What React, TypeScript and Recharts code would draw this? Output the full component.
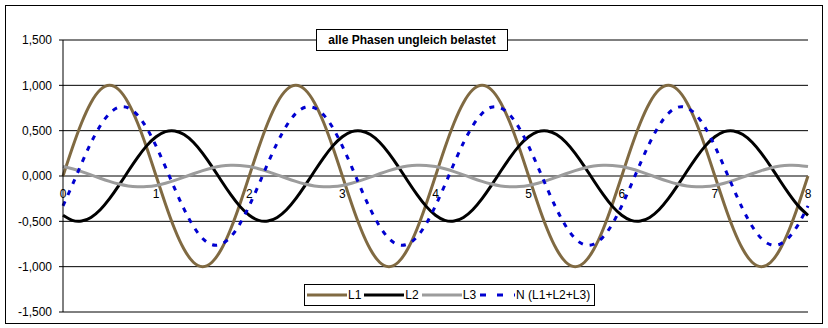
import { LineChart, Line, XAxis, YAxis, CartesianGrid, ReferenceDot } from "recharts";

// x positions (step 0.1 from 0 to 8)
const xValues = [
  0, 0.1, 0.2, 0.3, 0.4, 0.5, 0.6, 0.7, 0.8, 0.9,
  1, 1.1, 1.2, 1.3, 1.4, 1.5, 1.6, 1.7, 1.8, 1.9,
  2, 2.1, 2.2, 2.3, 2.4, 2.5, 2.6, 2.7, 2.8, 2.9,
  3, 3.1, 3.2, 3.3, 3.4, 3.5, 3.6, 3.7, 3.8, 3.9,
  4, 4.1, 4.2, 4.3, 4.4, 4.5, 4.6, 4.7, 4.8, 4.9,
  5, 5.1, 5.2, 5.3, 5.4, 5.5, 5.6, 5.7, 5.8, 5.9,
  6, 6.1, 6.2, 6.3, 6.4, 6.5, 6.6, 6.7, 6.8, 6.9,
  7, 7.1, 7.2, 7.3, 7.4, 7.5, 7.6, 7.7, 7.8, 7.9,
  8,
];

const l1Values = [
  0, 0.309, 0.588, 0.809, 0.951, 1, 0.951, 0.809, 0.588, 0.309,
  0, -0.309, -0.588, -0.809, -0.951, -1, -0.951, -0.809, -0.588, -0.309,
  0, 0.309, 0.588, 0.809, 0.951, 1, 0.951, 0.809, 0.588, 0.309,
  0, -0.309, -0.588, -0.809, -0.951, -1, -0.951, -0.809, -0.588, -0.309,
  0, 0.309, 0.588, 0.809, 0.951, 1, 0.951, 0.809, 0.588, 0.309,
  0, -0.309, -0.588, -0.809, -0.951, -1, -0.951, -0.809, -0.588, -0.309,
  0, 0.309, 0.588, 0.809, 0.951, 1, 0.951, 0.809, 0.588, 0.309,
  0, -0.309, -0.588, -0.809, -0.951, -1, -0.951, -0.809, -0.588, -0.309,
  0,
];

const l2Values = [
  -0.433, -0.489, -0.497, -0.457, -0.372, -0.25, -0.104, 0.052, 0.203, 0.335,
  0.433, 0.489, 0.497, 0.457, 0.372, 0.25, 0.104, -0.052, -0.203, -0.335,
  -0.433, -0.489, -0.497, -0.457, -0.372, -0.25, -0.104, 0.052, 0.203, 0.335,
  0.433, 0.489, 0.497, 0.457, 0.372, 0.25, 0.104, -0.052, -0.203, -0.335,
  -0.433, -0.489, -0.497, -0.457, -0.372, -0.25, -0.104, 0.052, 0.203, 0.335,
  0.433, 0.489, 0.497, 0.457, 0.372, 0.25, 0.104, -0.052, -0.203, -0.335,
  -0.433, -0.489, -0.497, -0.457, -0.372, -0.25, -0.104, 0.052, 0.203, 0.335,
  0.433, 0.489, 0.497, 0.457, 0.372, 0.25, 0.104, -0.052, -0.203, -0.335,
  -0.433,
];

const l3Values = [
  0.104, 0.08, 0.049, 0.013, -0.025, -0.06, -0.089, -0.11, -0.119, -0.117,
  -0.104, -0.08, -0.049, -0.013, 0.025, 0.06, 0.089, 0.11, 0.119, 0.117,
  0.104, 0.08, 0.049, 0.013, -0.025, -0.06, -0.089, -0.11, -0.119, -0.117,
  -0.104, -0.08, -0.049, -0.013, 0.025, 0.06, 0.089, 0.11, 0.119, 0.117,
  0.104, 0.08, 0.049, 0.013, -0.025, -0.06, -0.089, -0.11, -0.119, -0.117,
  -0.104, -0.08, -0.049, -0.013, 0.025, 0.06, 0.089, 0.11, 0.119, 0.117,
  0.104, 0.08, 0.049, 0.013, -0.025, -0.06, -0.089, -0.11, -0.119, -0.117,
  -0.104, -0.08, -0.049, -0.013, 0.025, 0.06, 0.089, 0.11, 0.119, 0.117,
  0.104,
];

const nValues = [
  -0.329, -0.1, 0.14, 0.365, 0.554, 0.69, 0.758, 0.751, 0.672, 0.527,
  0.329, 0.1, -0.14, -0.365, -0.554, -0.69, -0.758, -0.751, -0.672, -0.527,
  -0.329, -0.1, 0.14, 0.365, 0.554, 0.69, 0.758, 0.751, 0.672, 0.527,
  0.329, 0.1, -0.14, -0.365, -0.554, -0.69, -0.758, -0.751, -0.672, -0.527,
  -0.329, -0.1, 0.14, 0.365, 0.554, 0.69, 0.758, 0.751, 0.672, 0.527,
  0.329, 0.1, -0.14, -0.365, -0.554, -0.69, -0.758, -0.751, -0.672, -0.527,
  -0.329, -0.1, 0.14, 0.365, 0.554, 0.69, 0.758, 0.751, 0.672, 0.527,
  0.329, 0.1, -0.14, -0.365, -0.554, -0.69, -0.758, -0.751, -0.672, -0.527,
  -0.329,
];

const yTicks = [-1.5, -1, -0.5, 0, 0.5, 1, 1.5];
const xTicks = [0, 1, 2, 3, 4, 5, 6, 7, 8];

const title = "alle Phasen ungleich belastet";

const series = [
  { key: "L1", name: "L1", color: "#806a42", dash: undefined },
  { key: "L2", name: "L2", color: "#000000", dash: undefined },
  { key: "L3", name: "L3", color: "#9c9c9c", dash: undefined },
  { key: "N", name: "N (L1+L2+L3)", color: "#0000d0", dash: "5 7" },
];

const data = xValues.map((x, i) => ({
  x,
  L1: l1Values[i],
  L2: l2Values[i],
  L3: l3Values[i],
  N: nValues[i],
}));

const font = "Arial, 'Liberation Sans', sans-serif";

const fmt = (v: number) => v.toFixed(3).replace(".", ",");

function LegendBox() {
  return (
    <div
      style={{
        position: "absolute",
        left: 304,
        top: 284,
        height: 22,
        boxSizing: "border-box",
        border: "1px solid #000",
        background: "#fff",
        display: "flex",
        alignItems: "center",
        padding: "0 4px 0 2px",
        fontFamily: font,
        fontSize: 12,
        whiteSpace: "nowrap",
      }}
    >
      {series.map((s, i) => {
        const w = s.dash ? 36 : 40;
        return (
          <div key={s.key} style={{ display: "flex", alignItems: "center", marginRight: i < series.length - 1 ? 3 : 0 }}>
            <svg width={w} height={10}>
              <line
                x1={0}
                y1={5}
                x2={w}
                y2={5}
                stroke={s.color}
                strokeWidth={3}
                strokeDasharray={s.dash ? "6 11" : undefined}
                strokeDashoffset={s.dash ? 16 : undefined}
              />
            </svg>
            <span style={{ marginLeft: 1 }}>{s.name}</span>
          </div>
        );
      })}
    </div>
  );
}

export default function App() {
  return (
    <div style={{ position: "absolute", left: 0, top: 0, width: 828, height: 328, background: "#fff" }}>
      <div
        style={{
          position: "absolute",
          left: 5,
          top: 5,
          width: 818,
          height: 319,
          boxSizing: "border-box",
          border: "1px solid #000",
        }}
      />
      <LineChart
        width={828}
        height={328}
        data={data}
        margin={{ top: 40, right: 20, bottom: 16, left: 5 }}
        style={{ position: "absolute", left: 0, top: 0 }}
      >
        <CartesianGrid horizontal vertical={false} stroke="#000" strokeOpacity={1} />
        <XAxis dataKey="x" type="number" domain={[0, 8]} ticks={xTicks} hide />
        <YAxis
          type="number"
          domain={[-1.5, 1.5]}
          ticks={yTicks}
          width={58}
          tickFormatter={fmt}
          stroke="#000"
          tickSize={4}
          tickMargin={7}
          tick={{ fill: "#000", fontSize: 12, fontFamily: font }}
          interval={0}
        />
        {xTicks.map((t) => (
          <ReferenceDot
            key={t}
            x={t}
            y={0}
            r={0}
            fill="none"
            stroke="none"
            label={{ value: String(t), position: "bottom", offset: 13, fill: "#000", fontSize: 12, fontFamily: font }}
          />
        ))}
        {series.map((s) => (
          <Line
            key={s.key}
            dataKey={s.key}
            name={s.name}
            type="natural"
            stroke={s.color}
            strokeWidth={3}
            strokeDasharray={s.dash}
            dot={false}
            activeDot={false}
            isAnimationActive={false}
          />
        ))}
      </LineChart>
      <div
        style={{
          position: "absolute",
          left: 316,
          top: 29,
          width: 192,
          height: 22,
          boxSizing: "border-box",
          border: "1px solid #000",
          background: "#fff",
          fontFamily: font,
          fontSize: 12,
          fontWeight: "bold",
          textAlign: "center",
          lineHeight: "20px",
          whiteSpace: "nowrap",
        }}
      >
        {title}
      </div>
      <LegendBox />
    </div>
  );
}
